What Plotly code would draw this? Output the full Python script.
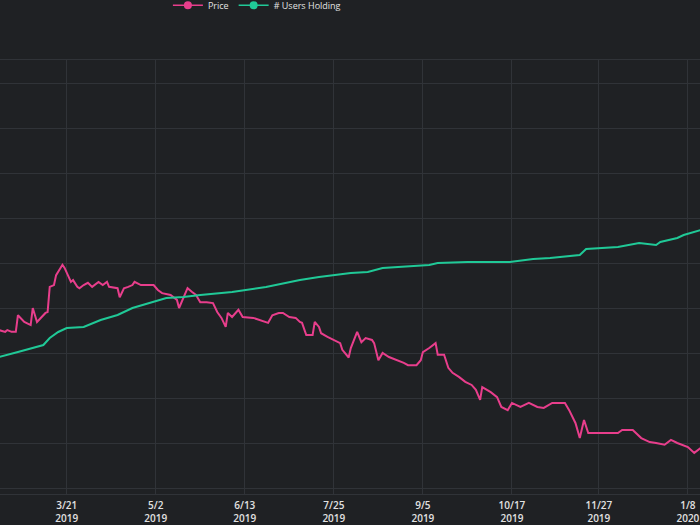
import plotly.graph_objects as go

# ---- data ----
price_dates = [
    "2019-02-14", "2019-02-17", "2019-02-20", "2019-02-21", "2019-02-23", "2019-02-25", "2019-02-26",
    "2019-02-28", "2019-03-01", "2019-03-04", "2019-03-05", "2019-03-07", "2019-03-09", "2019-03-11",
    "2019-03-12", "2019-03-13", "2019-03-15", "2019-03-16", "2019-03-19", "2019-03-20", "2019-03-23",
    "2019-03-24", "2019-03-26", "2019-03-27", "2019-03-29", "2019-03-31", "2019-04-02", "2019-04-05",
    "2019-04-07", "2019-04-09", "2019-04-10", "2019-04-13", "2019-04-14", "2019-04-15", "2019-04-17",
    "2019-04-19", "2019-04-21", "2019-04-22", "2019-04-25", "2019-04-28", "2019-05-01", "2019-05-03",
    "2019-05-05", "2019-05-09", "2019-05-12", "2019-05-13", "2019-05-15", "2019-05-17", "2019-05-19",
    "2019-05-21", "2019-05-23", "2019-05-26", "2019-05-29", "2019-05-31", "2019-06-02", "2019-06-04",
    "2019-06-05", "2019-06-07", "2019-06-10", "2019-06-12", "2019-06-17", "2019-06-22", "2019-06-24",
    "2019-06-26", "2019-06-29", "2019-07-01", "2019-07-04", "2019-07-07", "2019-07-09", "2019-07-10",
    "2019-07-12", "2019-07-15", "2019-07-16", "2019-07-18", "2019-07-19", "2019-07-22", "2019-07-25",
    "2019-07-28", "2019-07-29", "2019-07-31", "2019-08-01", "2019-08-02", "2019-08-05", "2019-08-07",
    "2019-08-09", "2019-08-12", "2019-08-13", "2019-08-15", "2019-08-17", "2019-08-20", "2019-08-24",
    "2019-08-27", "2019-08-29", "2019-09-02", "2019-09-04", "2019-09-05", "2019-09-08", "2019-09-11",
    "2019-09-12", "2019-09-15", "2019-09-17", "2019-09-19", "2019-09-22", "2019-09-25", "2019-09-28",
    "2019-09-30", "2019-10-02", "2019-10-03", "2019-10-07", "2019-10-10", "2019-10-12", "2019-10-15",
    "2019-10-17", "2019-10-21", "2019-10-25", "2019-10-29", "2019-11-01", "2019-11-05", "2019-11-09",
    "2019-11-11", "2019-11-13", "2019-11-16", "2019-11-18", "2019-11-20", "2019-11-22", "2019-11-25",
    "2019-11-29", "2019-12-06", "2019-12-08", "2019-12-13", "2019-12-17", "2019-12-21", "2019-12-24",
    "2019-12-28", "2019-12-31", "2020-01-03", "2020-01-08", "2020-01-11", "2020-01-14",
]
price_values = [
    5.50, 5.51, 5.47, 5.51, 5.47, 5.47, 5.84,
    5.73, 5.69, 5.62, 6.00, 5.69, 5.80, 5.89,
    5.91, 6.47, 6.51, 6.73, 6.96, 6.89, 6.58,
    6.62, 6.47, 6.44, 6.51, 6.56, 6.47, 6.58,
    6.51, 6.58, 6.47, 6.44, 6.44, 6.24, 6.44,
    6.47, 6.51, 6.58, 6.51, 6.51, 6.51, 6.40,
    6.33, 6.29, 6.18, 6.00, 6.22, 6.44, 6.36,
    6.29, 6.13, 6.13, 6.11, 5.91, 5.78, 5.58,
    5.89, 5.80, 5.96, 5.80, 5.78, 5.69, 5.67,
    5.84, 5.89, 5.89, 5.80, 5.78, 5.69, 5.67,
    5.40, 5.40, 5.69, 5.58, 5.44, 5.36, 5.29,
    5.22, 5.07, 4.96, 4.90, 5.11, 5.47, 5.24,
    5.33, 5.29, 5.22, 4.84, 5.00, 4.91, 4.84,
    4.78, 4.73, 4.73, 4.84, 5.02, 5.11, 5.22,
    4.96, 4.96, 4.67, 4.56, 4.47, 4.36, 4.29,
    4.18, 3.96, 4.24, 4.13, 4.02, 3.80, 3.73,
    3.89, 3.80, 3.89, 3.80, 3.78, 3.89, 3.89,
    3.89, 3.73, 3.44, 3.11, 3.51, 3.22, 3.22,
    3.22, 3.22, 3.29, 3.29, 3.11, 3.02, 3.00,
    2.96, 3.07, 3.00, 2.91, 2.78, 2.89,
]

users_dates = [
    "2019-02-14", "2019-02-17", "2019-02-26", "2019-03-05", "2019-03-10", "2019-03-13", "2019-03-17",
    "2019-03-21", "2019-03-29", "2019-04-06", "2019-04-14", "2019-04-21", "2019-04-29", "2019-05-07",
    "2019-05-15", "2019-05-23", "2019-06-07", "2019-06-23", "2019-07-09", "2019-07-18", "2019-08-02",
    "2019-08-10", "2019-08-17", "2019-08-25", "2019-09-08", "2019-09-12", "2019-09-26", "2019-10-16",
    "2019-10-27", "2019-11-04", "2019-11-18", "2019-11-21", "2019-11-28", "2019-12-06", "2019-12-16",
    "2019-12-24", "2019-12-26", "2020-01-03", "2020-01-06", "2020-01-14",
]
users_values = [
    12500, 12627, 13088, 13457, 13733, 14378, 14932,
    15300, 15392, 16038, 16498, 17144, 17604, 18065,
    18157, 18342, 18618, 19079, 19724, 20001, 20370,
    20462, 20830, 20923, 21107, 21291, 21383, 21383,
    21660, 21752, 22029, 22582, 22674, 22766, 23135,
    22950, 23227, 23596, 23872, 24333,
]

tick_dates = ["2019-03-21", "2019-05-02", "2019-06-13", "2019-07-25",
              "2019-09-05", "2019-10-17", "2019-11-27", "2020-01-08"]
tick_md = ["3/21", "5/2", "6/13", "7/25", "9/5", "10/17", "11/27", "1/8"]
tick_year = ["2019", "2019", "2019", "2019", "2019", "2019", "2019", "2020"]

x_range = ["2019-02-17 13:00", "2020-01-13 17:00"]

PINK = "#e83e8c"
TEAL = "#20c997"
BG = "#1f2124"
GRID = "#303338"
TXT = "#e2e2e2"

tick_text = [f"{md}<br>{yr}" for md, yr in zip(tick_md, tick_year)]

fig = go.Figure()
fig.add_trace(go.Scatter(x=price_dates, y=price_values, mode="lines", name="Price",
                         line=dict(color=PINK, width=2), showlegend=False, yaxis="y"))
fig.add_trace(go.Scatter(x=users_dates, y=users_values, mode="lines", name="# Users Holding",
                         line=dict(color=TEAL, width=2), showlegend=False, yaxis="y2"))
# legend entries
fig.add_trace(go.Scatter(x=[None], y=[None], mode="lines+markers", name="Price",
                         line=dict(color=PINK, width=1.5), marker=dict(color=PINK, size=8)))
fig.add_trace(go.Scatter(x=[None], y=[None], mode="lines+markers", name="# Users Holding",
                         line=dict(color=TEAL, width=1.5), marker=dict(color=TEAL, size=8)))

fig.update_layout(
    width=700, height=525,
    margin=dict(l=0, r=0, t=60, b=31, autoexpand=False),
    paper_bgcolor=BG, plot_bgcolor=BG,
    font=dict(family="Open Sans", color=TXT, size=11),
    showlegend=True,
    legend=dict(orientation="h", x=0.367, xanchor="center", y=1.126, yref="paper",
                yanchor="middle", font=dict(size=9, color=TXT), bgcolor="rgba(0,0,0,0)",
                itemwidth=30),
    xaxis=dict(type="date", range=x_range, tickvals=tick_dates, ticktext=tick_text,
               showgrid=True, gridcolor=GRID, gridwidth=1, showline=True, mirror=True,
               linecolor=GRID, ticks="", zeroline=False, ticklabelstandoff=2,
               tickfont=dict(size=10, color=TXT, weight=600)),
    yaxis=dict(range=[1.8667, 11.5111], dtick=1, tick0=0, showgrid=True, gridcolor=GRID,
               showticklabels=False, zeroline=False, ticks=""),
    yaxis2=dict(range=[0, 40000], overlaying="y", showgrid=False, showticklabels=False,
                zeroline=False, ticks=""),
)

fig.write_html("out.html")
